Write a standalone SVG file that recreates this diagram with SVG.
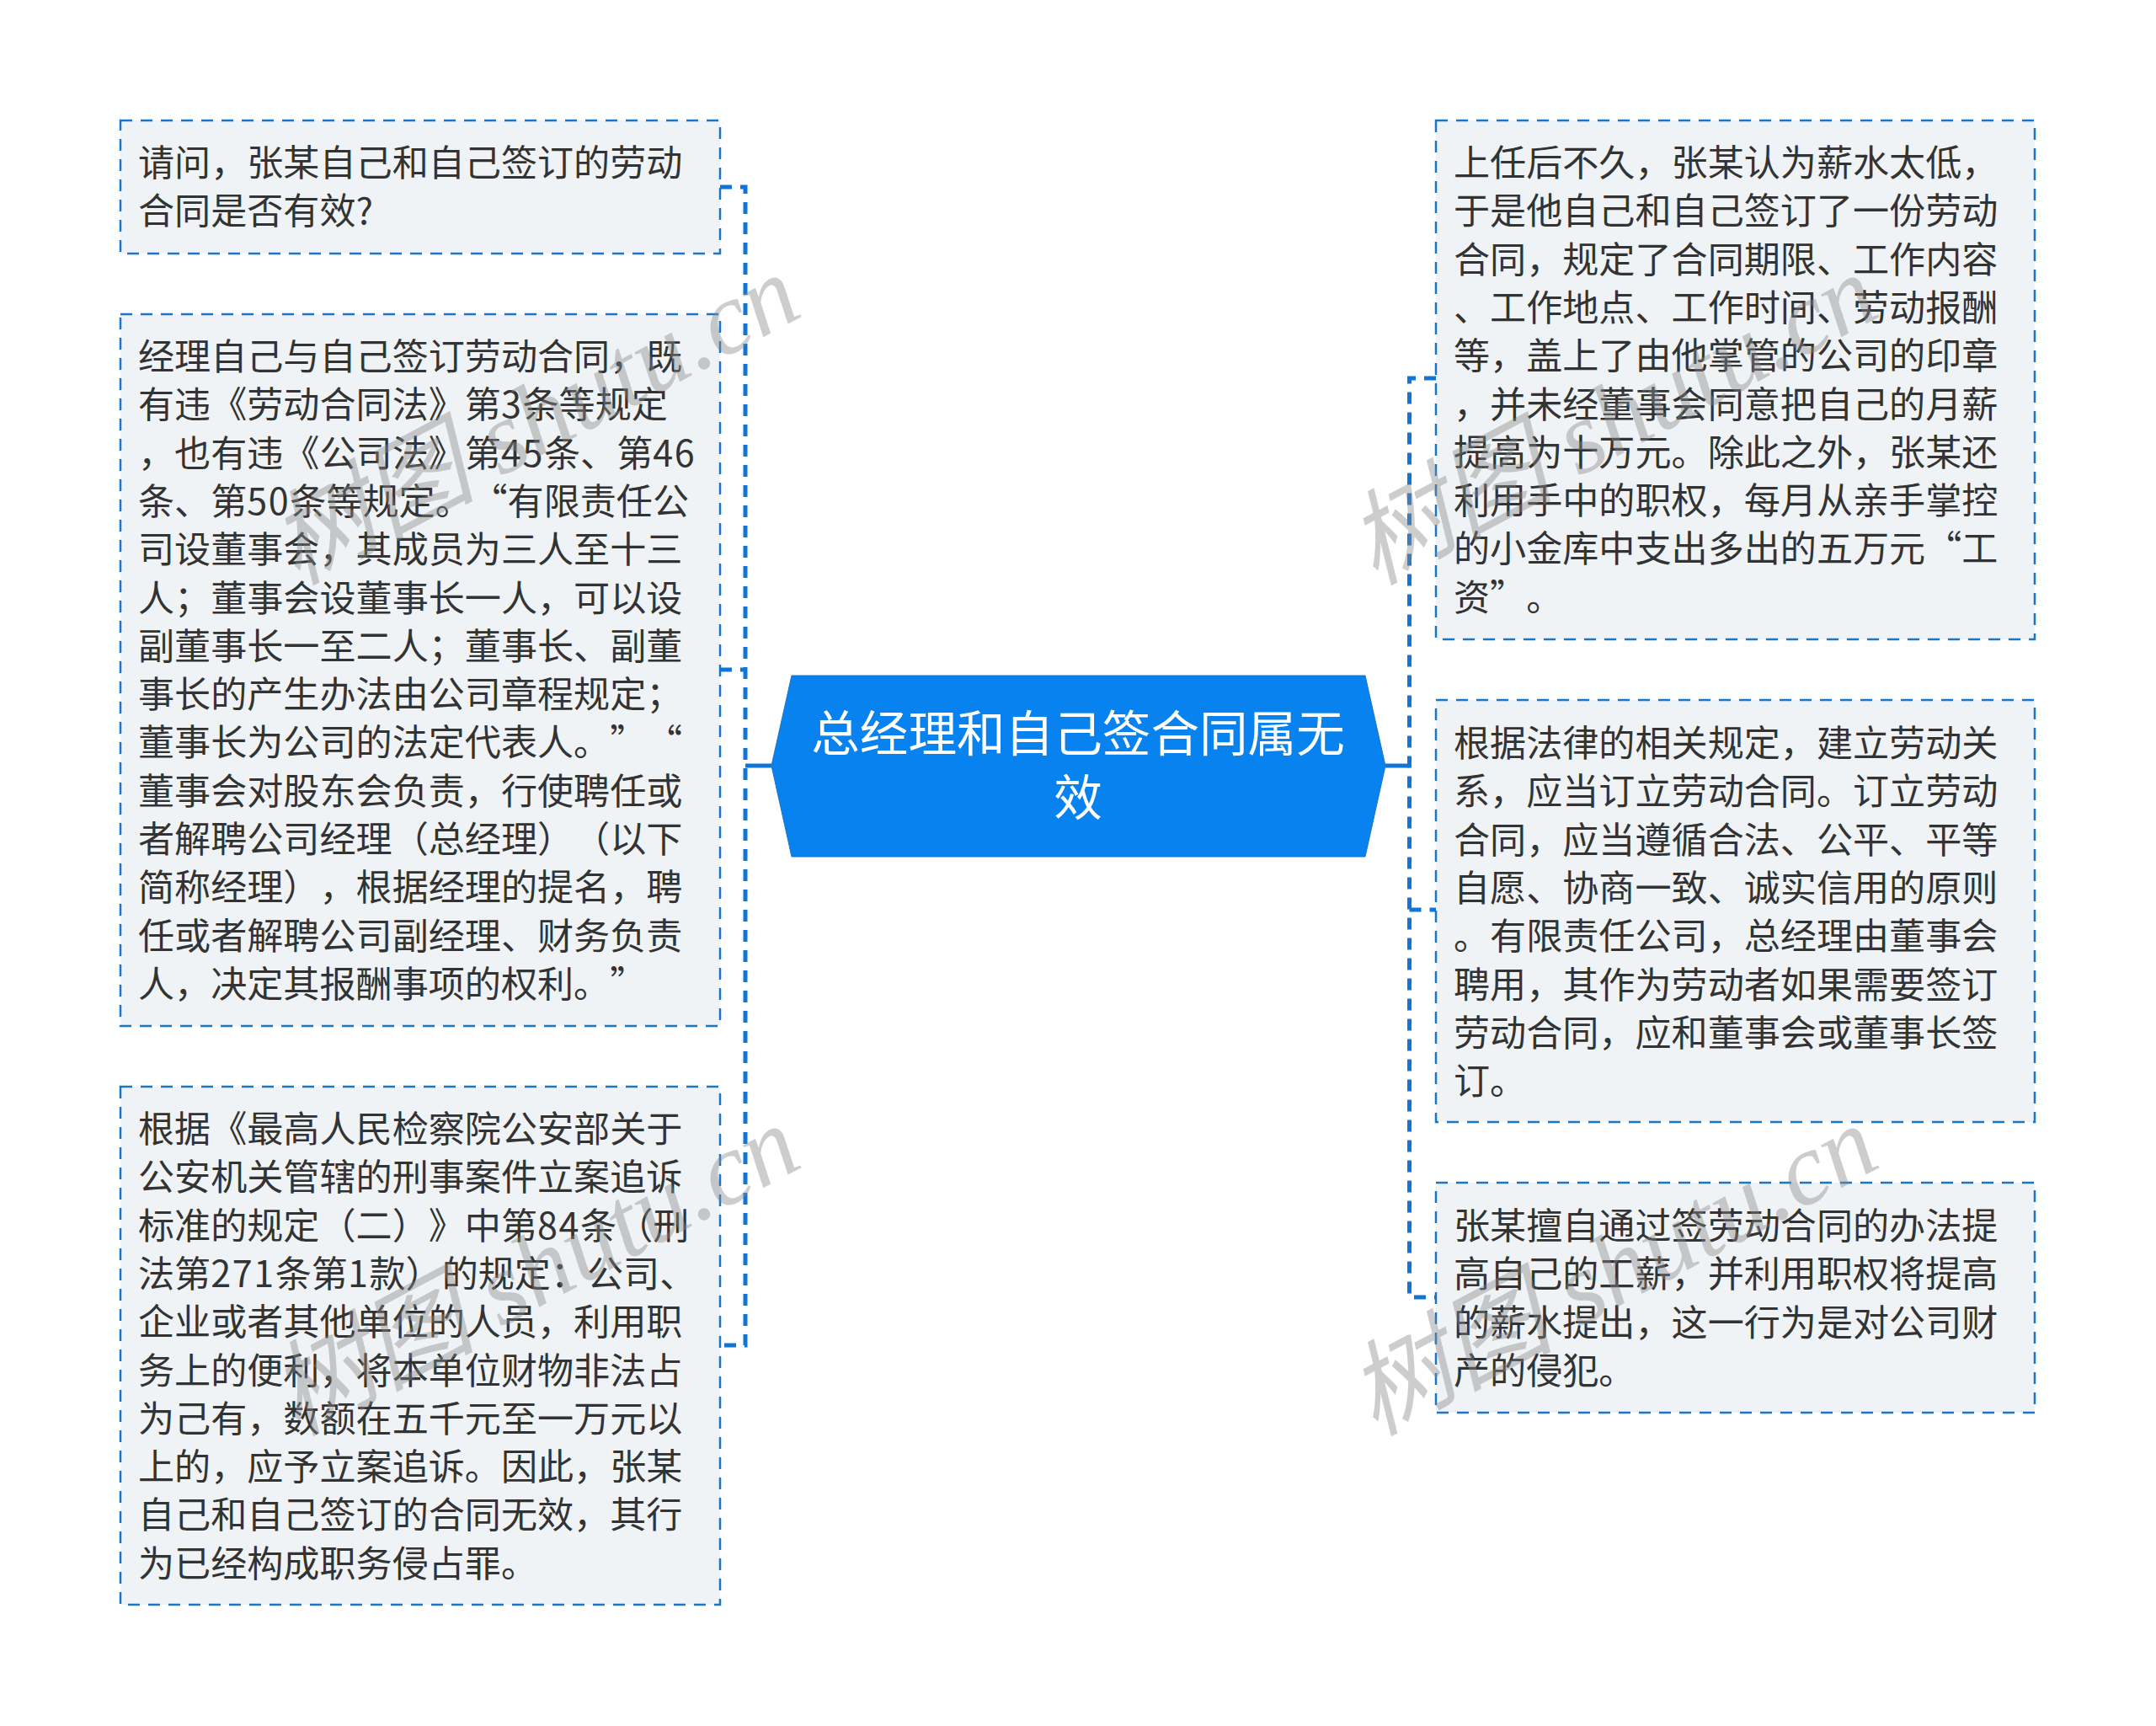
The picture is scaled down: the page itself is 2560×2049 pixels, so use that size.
<svg xmlns="http://www.w3.org/2000/svg" width="2560" height="2049" viewBox="0 0 2560 2049">
<style>
text{text-spacing-trim:space-all;text-autospace:no-autospace}
.box{fill:#eff3f6;stroke:#1976c8;stroke-width:2.5;stroke-dasharray:14 10}
.t{font-family:"Noto Sans CJK SC","Noto Sans",sans-serif;font-size:43.1px;fill:#333}
.n{letter-spacing:1.6px}
.title{font-family:"Noto Sans CJK SC","Noto Sans",sans-serif;font-size:57.6px;fill:#fff;text-anchor:middle}
.c{fill:none;stroke:#0f76d8;stroke-width:5}
.d{stroke-dasharray:14 10}
.w{font-family:"Liberation Serif","Noto Sans CJK SC",serif;font-style:italic;font-size:122px;fill:#888;fill-opacity:.42}
</style>
<rect width="2560" height="2049" fill="#fff"/>
<g id="connectors">
<path class="c d" d="M855 222H885V1597H855"/>
<path class="c d" d="M855 795H885"/>
<path class="c" d="M885 909H916"/>
<path class="c d" d="M1705 449H1673.500V1540H1705"/>
<path class="c d" d="M1673.500 1080H1705"/>
<path class="c" d="M1645 909H1673.500"/>
</g>
<g id="center">
<path d="M940 802H1621L1645 909 1621 1017H940L916 909Z" fill="#0782ef" stroke="#1976c8" stroke-width="1"/>
<text class="title"><tspan x="1280" y="892">总经理和自己签合同属无</tspan><tspan x="1280" y="968">效</tspan></text>
</g>
<g id="left-1">
<rect class="box" x="143" y="143" width="712" height="158"/>
<text class="t"><tspan x="164" y="209">请问，张某自己和自己签订的劳动</tspan><tspan x="164" dy="57.3">合同是否有效?</tspan></text>
</g>
<g id="left-2">
<rect class="box" x="143" y="373" width="712" height="845"/>
<text class="t"><tspan x="164" y="439">经理自己与自己签订劳动合同，既</tspan><tspan x="164" dy="57.3">有违《劳动合同法》第<tspan class="n">3</tspan>条等规定</tspan><tspan x="164" dy="57.3">，也有违《公司法》第<tspan class="n">45</tspan>条、第<tspan class="n">46</tspan></tspan><tspan x="164" dy="57.3">条、第<tspan class="n">50</tspan>条等规定。 <tspan dx="-10">“有限责任公</tspan></tspan><tspan x="164" dy="57.3">司设董事会，其成员为三人至十三</tspan><tspan x="164" dy="57.3">人；董事会设董事长一人，可以设</tspan><tspan x="164" dy="57.3">副董事长一至二人；董事长、副董</tspan><tspan x="164" dy="57.3">事长的产生办法由公司章程规定；</tspan><tspan x="164" dy="57.3">董事长为公司的法定代表人。” <tspan dx="-10">“</tspan></tspan><tspan x="164" dy="57.3">董事会对股东会负责，行使聘任或</tspan><tspan x="164" dy="57.3">者解聘公司经理（总经理）（以下</tspan><tspan x="164" dy="57.3">简称经理），根据经理的提名，聘</tspan><tspan x="164" dy="57.3">任或者解聘公司副经理、财务负责</tspan><tspan x="164" dy="57.3">人，决定其报酬事项的权利。”</tspan></text>
</g>
<g id="left-3">
<rect class="box" x="143" y="1290" width="712" height="615"/>
<text class="t"><tspan x="164" y="1356">根据《最高人民检察院公安部关于</tspan><tspan x="164" dy="57.3">公安机关管辖的刑事案件立案追诉</tspan><tspan x="164" dy="57.3">标准的规定（二）》中第<tspan class="n">84</tspan>条（刑</tspan><tspan x="164" dy="57.3">法第<tspan class="n">271</tspan>条第<tspan class="n">1</tspan>款）的规定：公司、</tspan><tspan x="164" dy="57.3">企业或者其他单位的人员，利用职</tspan><tspan x="164" dy="57.3">务上的便利，将本单位财物非法占</tspan><tspan x="164" dy="57.3">为己有，数额在五千元至一万元以</tspan><tspan x="164" dy="57.3">上的，应予立案追诉。因此，张某</tspan><tspan x="164" dy="57.3">自己和自己签订的合同无效，其行</tspan><tspan x="164" dy="57.3">为已经构成职务侵占罪。</tspan></text>
</g>
<g id="right-1">
<rect class="box" x="1705" y="143" width="711" height="616"/>
<text class="t"><tspan x="1726" y="209">上任后不久，张某认为薪水太低，</tspan><tspan x="1726" dy="57.3">于是他自己和自己签订了一份劳动</tspan><tspan x="1726" dy="57.3">合同，规定了合同期限、工作内容</tspan><tspan x="1726" dy="57.3">、工作地点、工作时间、劳动报酬</tspan><tspan x="1726" dy="57.3">等，盖上了由他掌管的公司的印章</tspan><tspan x="1726" dy="57.3">，并未经董事会同意把自己的月薪</tspan><tspan x="1726" dy="57.3">提高为十万元。除此之外，张某还</tspan><tspan x="1726" dy="57.3">利用手中的职权，每月从亲手掌控</tspan><tspan x="1726" dy="57.3">的小金库中支出多出的五万元“工</tspan><tspan x="1726" dy="57.3">资”。</tspan></text>
</g>
<g id="right-2">
<rect class="box" x="1705" y="831" width="711" height="501"/>
<text class="t"><tspan x="1726" y="898">根据法律的相关规定，建立劳动关</tspan><tspan x="1726" dy="57.3">系，应当订立劳动合同。订立劳动</tspan><tspan x="1726" dy="57.3">合同，应当遵循合法、公平、平等</tspan><tspan x="1726" dy="57.3">自愿、协商一致、诚实信用的原则</tspan><tspan x="1726" dy="57.3">。有限责任公司，总经理由董事会</tspan><tspan x="1726" dy="57.3">聘用，其作为劳动者如果需要签订</tspan><tspan x="1726" dy="57.3">劳动合同，应和董事会或董事长签</tspan><tspan x="1726" dy="57.3">订。</tspan></text>
</g>
<g id="right-3">
<rect class="box" x="1705" y="1404" width="711" height="273"/>
<text class="t"><tspan x="1726" y="1471">张某擅自通过签劳动合同的办法提</tspan><tspan x="1726" dy="57.3">高自己的工薪，并利用职权将提高</tspan><tspan x="1726" dy="57.3">的薪水提出，这一行为是对公司财</tspan><tspan x="1726" dy="57.3">产的侵犯。</tspan></text>
</g>
<g id="watermarks">
<text class="w" transform="translate(352 695) rotate(-28)">树图 shutu.cn</text>
<text class="w" transform="translate(352 1705) rotate(-28)">树图 shutu.cn</text>
<text class="w" transform="translate(1632 695) rotate(-28)">树图 shutu.cn</text>
<text class="w" transform="translate(1632 1705) rotate(-28)">树图 shutu.cn</text>
</g>
</svg>
